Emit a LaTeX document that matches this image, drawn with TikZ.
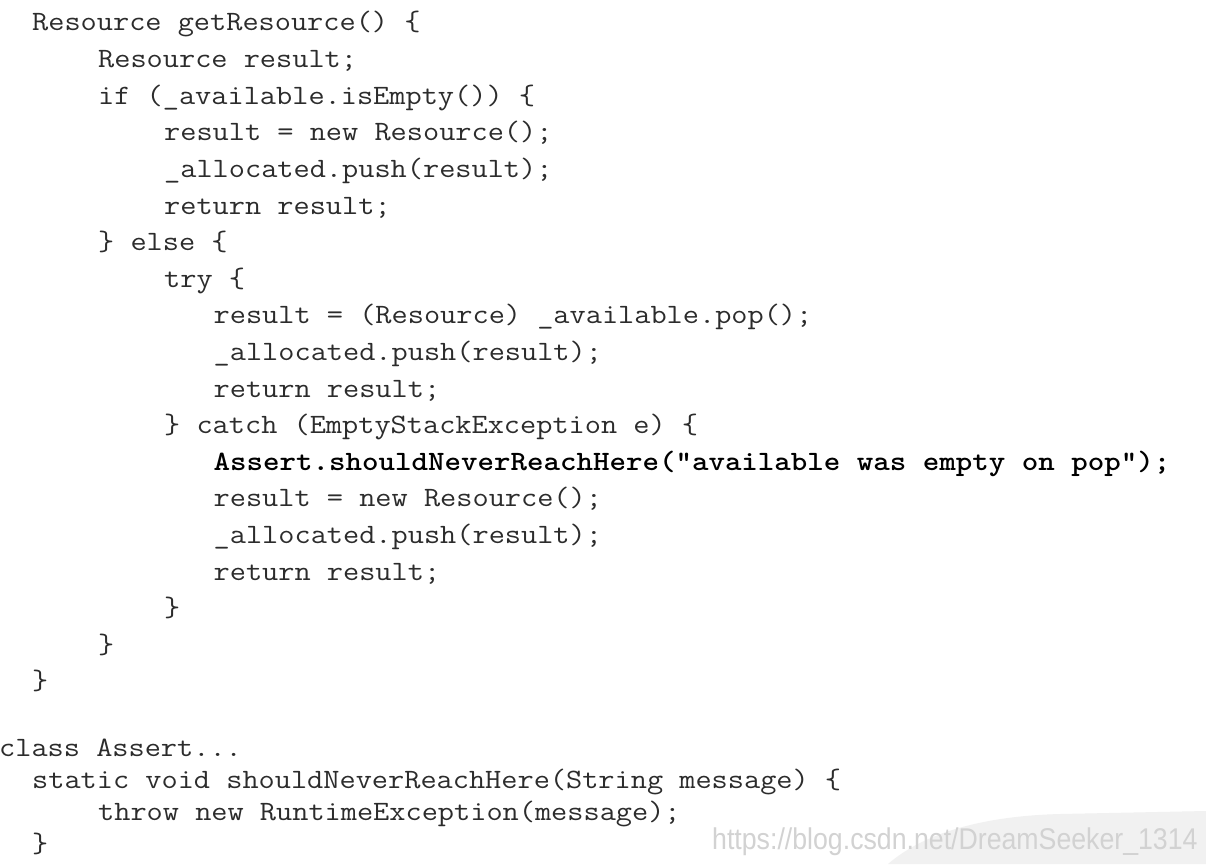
\documentclass[tikz,border=0pt]{standalone}
\usepackage{fontspec}
\usepackage{graphicx}
\newfontfamily\wmfont{Liberation Sans}
\definecolor{codegray}{HTML}{2C2C2C}
\definecolor{wmgray}{HTML}{D2D2D2}
\definecolor{blobgray}{HTML}{F1F1F1}
\newcommand{\cx}[1]{\scalebox{1.122}[1]{#1}}
\begin{document}
\begin{tikzpicture}[x=1pt,y=1pt,
  codeline/.style={anchor=base west, inner sep=0pt, font=\ttfamily\fontsize{28}{30}\selectfont, text=codegray},
  boldline/.style={codeline, font=\ttfamily\bfseries\fontsize{28}{30}\selectfont, text=black},
  wmark/.style={anchor=base west, inner sep=0pt, font=\wmfont\fontsize{30}{32}\selectfont, text=wmgray}]
\useasboundingbox (0,0) rectangle (1206,-864);
\fill[white] (0,0) rectangle (1206,-864);
% faint logo blob behind the watermark
\fill[blobgray] (888,-864) .. controls (925,-832) and (985,-816) .. (1060,-814)
  -- (1206,-811) -- (1206,-864) -- cycle;
\def\cw{16.5}
\def\lh{36.6}
\def\yb{31}
\def\lb{32.3}
\node[codeline] (l1)  at ({-1+2*\cw},  {-\yb-0*\lh})  {\cx{Resource getResource() \{}};
\node[codeline] (l2)  at ({-1+6*\cw},  {-\yb-1*\lh})  {\cx{Resource result;}};
\node[codeline] (l3)  at ({-1+6*\cw},  {-\yb-2*\lh})  {\cx{if (\_available.isEmpty()) \{}};
\node[codeline] (l4)  at ({-1+10*\cw}, {-\yb-3*\lh})  {\cx{result = new Resource();}};
\node[codeline] (l5)  at ({-1+10*\cw}, {-\yb-4*\lh})  {\cx{\_allocated.push(result);}};
\node[codeline] (l6)  at ({-1+10*\cw}, {-\yb-5*\lh})  {\cx{return result;}};
\node[codeline] (l7)  at ({-1+6*\cw},  {-\yb-6*\lh})  {\cx{\} else \{}};
\node[codeline] (l8)  at ({-1+10*\cw}, {-\yb-7*\lh})  {\cx{try \{}};
\node[codeline] (l9)  at ({-1+13*\cw}, {-\yb-8*\lh})  {\cx{result = (Resource) \_available.pop();}};
\node[codeline] (l10) at ({-1+13*\cw}, {-\yb-9*\lh})  {\cx{\_allocated.push(result);}};
\node[codeline] (l11) at ({-1+13*\cw}, {-\yb-10*\lh}) {\cx{return result;}};
\node[codeline] (l12) at ({-1+10*\cw}, {-\yb-11*\lh}) {\cx{\} catch (EmptyStackException e) \{}};
\node[boldline] (l13) at ({-1+13*\cw}, {-\yb-12*\lh}) {\cx{Assert.shouldNeverReachHere("available was empty on pop");}};
\node[codeline] (l14) at ({-1+13*\cw}, {-\yb-13*\lh}) {\cx{result = new Resource();}};
\node[codeline] (l15) at ({-1+13*\cw}, {-\yb-14*\lh}) {\cx{\_allocated.push(result);}};
\node[codeline] (l16) at ({-1+13*\cw}, {-\yb-15*\lh}) {\cx{return result;}};
\node[codeline] (l17) at ({-1+10*\cw}, {-\yb-16*\lh}) {\cx{\}}};
\node[codeline] (l18) at ({-1+6*\cw},  {-\yb-17*\lh}) {\cx{\}}};
\node[codeline] (l19) at ({-1+2*\cw},  {-\yb-18*\lh}) {\cx{\}}};
\node[codeline] (l21) at ({-1+0*\cw},  {-756})          {\cx{class Assert...}};
\node[codeline] (l22) at ({-1+2*\cw},  {-756-1*\lb})    {\cx{static void shouldNeverReachHere(String message) \{}};
\node[codeline] (l23) at ({-1+6*\cw},  {-756-2*\lb})    {\cx{throw new RuntimeException(message);}};
\node[codeline] (l24) at ({-1+2*\cw},  {-756-3*\lb})    {\cx{\}}};
\node[wmark] (wm) at (712,-849) {\scalebox{0.89}[1]{https://blog.csdn.net/DreamSeeker\_1314}};
\end{tikzpicture}
\end{document}
